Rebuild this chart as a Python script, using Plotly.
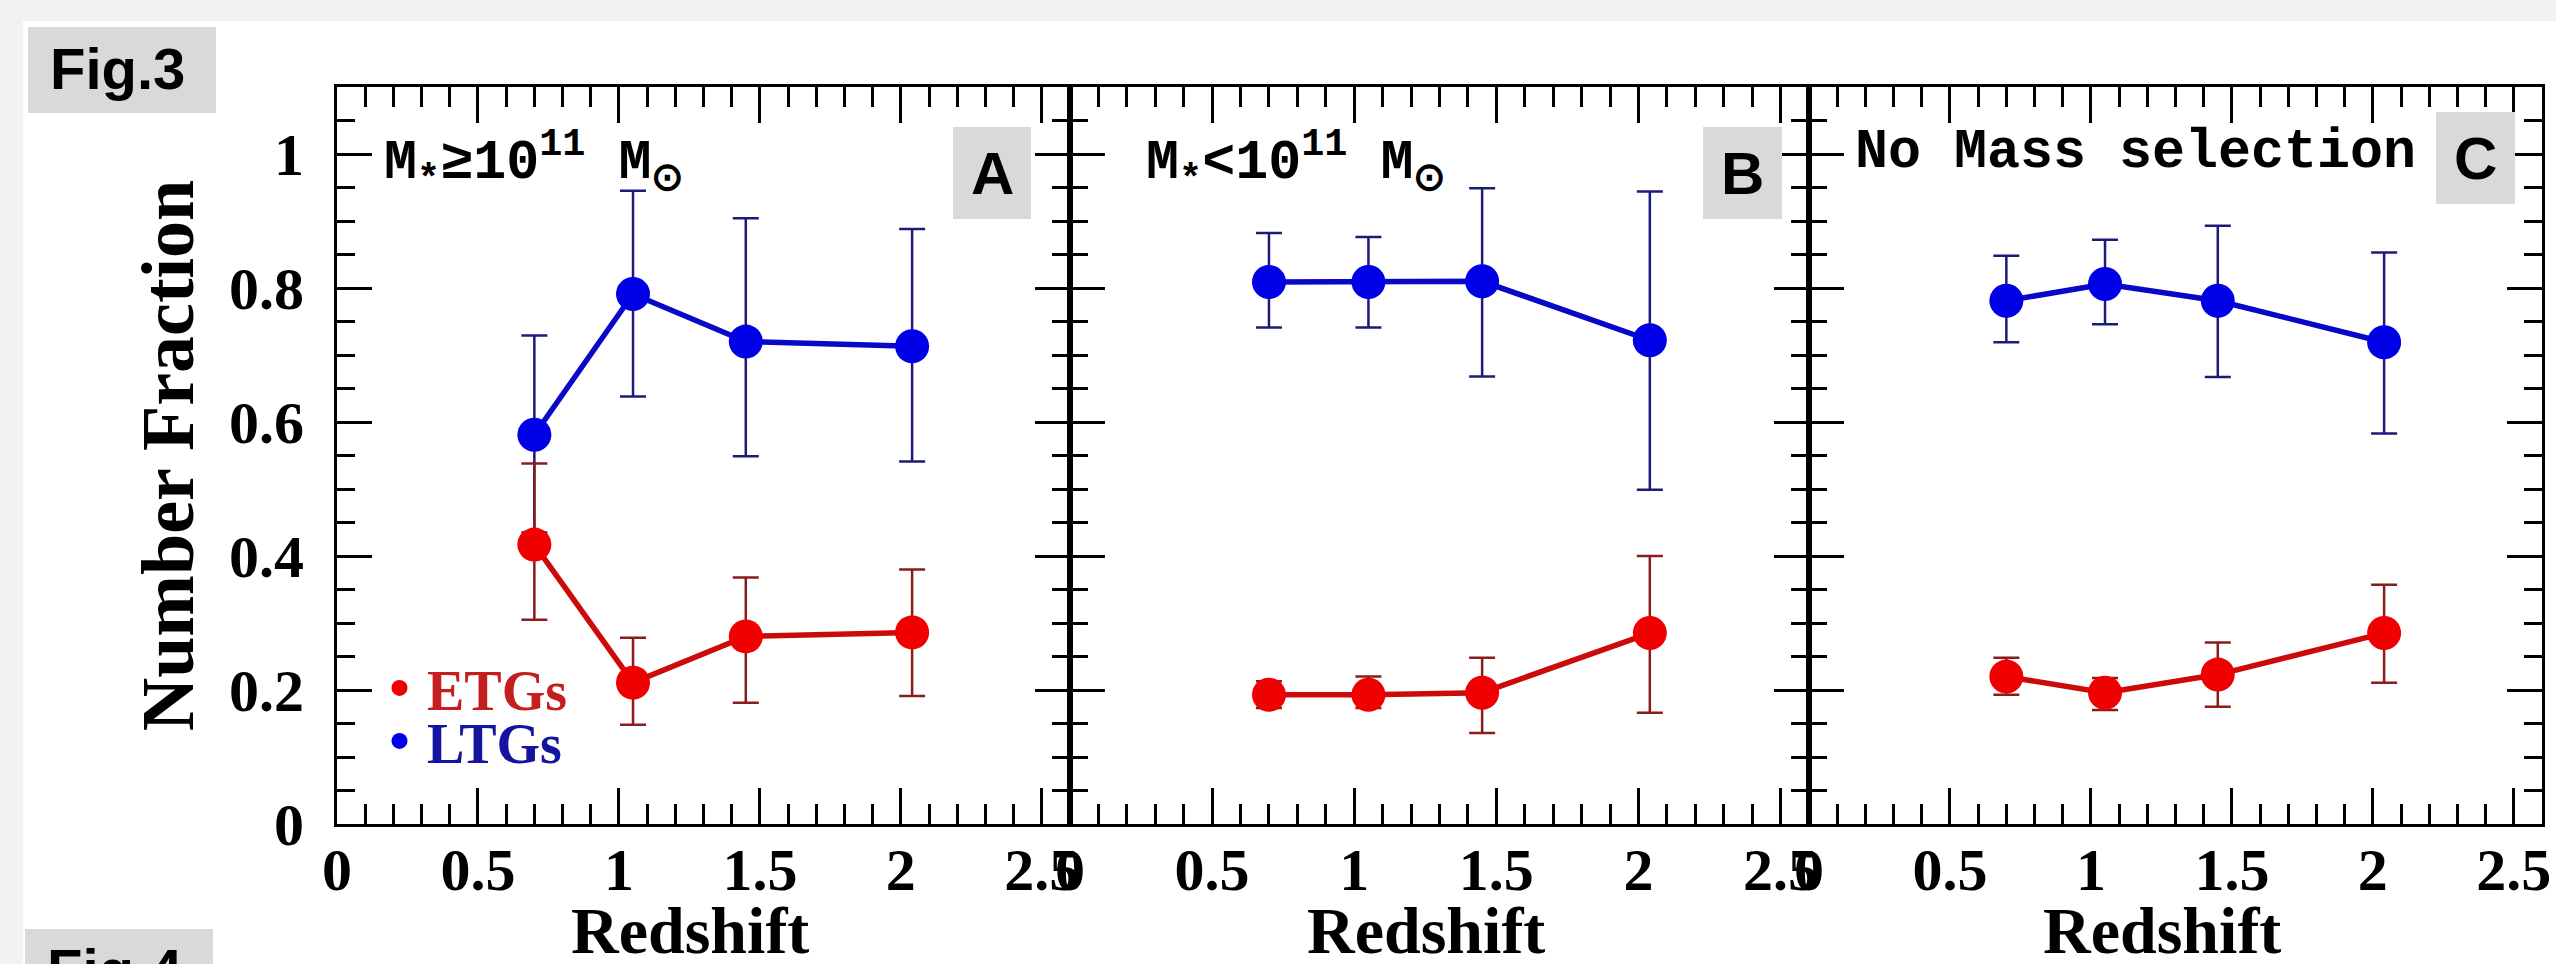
import plotly.graph_objects as go

# ---------------- data ----------------
redshift = [0.70, 1.05, 1.45, 2.04]

# Panel A : M* >= 1e11 Msun
a_ltg = [0.581, 0.791, 0.720, 0.713]
a_ltg_up = [0.148, 0.154, 0.184, 0.175]
a_ltg_dn = [0.146, 0.153, 0.171, 0.172]
a_etg = [0.417, 0.211, 0.280, 0.286]
a_etg_up = [0.121, 0.067, 0.088, 0.094]
a_etg_dn = [0.112, 0.063, 0.099, 0.095]

# Panel B : M* < 1e11 Msun
b_ltg = [0.809, 0.809, 0.810, 0.722]
b_ltg_up = [0.073, 0.067, 0.139, 0.222]
b_ltg_dn = [0.068, 0.068, 0.142, 0.223]
b_etg = [0.193, 0.193, 0.196, 0.285]
b_etg_up = [0.020, 0.027, 0.052, 0.115]
b_etg_dn = [0.020, 0.020, 0.060, 0.119]

# Panel C : no mass selection
c_ltg = [0.781, 0.806, 0.781, 0.719]
c_ltg_up = [0.067, 0.066, 0.112, 0.134]
c_ltg_dn = [0.062, 0.060, 0.114, 0.136]
c_etg = [0.220, 0.196, 0.223, 0.285]
c_etg_up = [0.028, 0.022, 0.048, 0.072]
c_etg_dn = [0.027, 0.026, 0.048, 0.074]

panel_titles = ["M<sub>*</sub>≥10<sup>11</sup> M<sub>⊙</sub>",
                "M<sub>*</sub>&lt;10<sup>11</sup> M<sub>⊙</sub>",
                "No Mass selection"]
panel_letters = ["A", "B", "C"]
x_title = "Redshift"
y_title = "Number Fraction"
series_names = ["ETGs", "LTGs"]

# ---------------- layout geometry ----------------
W, H = 2556, 964
L, R, T, B = 337, 2542, 87, 824
PW, PH = R - L, B - T


def px(X):
    return (X - L) / PW


def py(Y):
    return (B - Y) / PH


bounds = [337, 1070, 1809, 2542]
domains = [[px(bounds[i]), px(bounds[i + 1])] for i in range(3)]
domains[0][0] = 0.0
domains[2][1] = 1.0

BLUE = "#0000e6"
BLUE_LINE = "#0808c8"
BLUE_ERR = "#1c1c78"
RED = "#f00000"
RED_LINE = "#cc0a0a"
RED_ERR = "#8a1c1c"
BG_GREY = "#f2f2f2"
BOX_GREY = "#d9d9d9"

TICKFONT = dict(family="Liberation Serif", size=60, color="black", weight="bold")
TITLEFONT = dict(family="Liberation Serif", size=66, color="black", weight="bold")
MONOFONT = dict(family="Liberation Mono", size=55, color="black", weight="bold")
BOXFONT = dict(family="Liberation Sans", size=60, color="black", weight="bold")

fig = go.Figure()

panels = [
    (a_ltg, a_ltg_up, a_ltg_dn, a_etg, a_etg_up, a_etg_dn),
    (b_ltg, b_ltg_up, b_ltg_dn, b_etg, b_etg_up, b_etg_dn),
    (c_ltg, c_ltg_up, c_ltg_dn, c_etg, c_etg_up, c_etg_dn),
]

for i, (ltg, lup, ldn, etg, eup, edn) in enumerate(panels):
    xa = "x" if i == 0 else f"x{i+1}"
    ya = "y" if i == 0 else f"y{i+1}"
    fig.add_trace(go.Scatter(
        x=redshift, y=ltg, xaxis=xa, yaxis=ya, mode="lines+markers",
        line=dict(color=BLUE_LINE, width=5.5),
        marker=dict(color=BLUE, size=34),
        error_y=dict(type="data", symmetric=False, array=lup, arrayminus=ldn,
                     color=BLUE_ERR, thickness=2.5, width=13),
        showlegend=False, hoverinfo="skip"))
    fig.add_trace(go.Scatter(
        x=redshift, y=etg, xaxis=xa, yaxis=ya, mode="lines+markers",
        line=dict(color=RED_LINE, width=5.5),
        marker=dict(color=RED, size=34),
        error_y=dict(type="data", symmetric=False, array=eup, arrayminus=edn,
                     color=RED_ERR, thickness=2.5, width=13),
        showlegend=False, hoverinfo="skip"))

# legend entries (dots only)
fig.add_trace(go.Scatter(x=[None], y=[None], mode="markers", name=series_names[0],
                         marker=dict(color=RED, size=20), legend="legend"))
fig.add_trace(go.Scatter(x=[None], y=[None], mode="markers", name=series_names[1],
                         marker=dict(color=BLUE, size=20), legend="legend2"))

axis_common = dict(showline=True, linewidth=3, linecolor="black", mirror="allticks",
                   ticks="inside", tickcolor="black", tickwidth=3, automargin=False,
                   showgrid=False, zeroline=False, tickfont=TICKFONT)

layout = dict(
    width=W, height=H, autosize=False,
    margin=dict(l=L, r=W - R, t=T, b=H - B, autoexpand=False),
    paper_bgcolor="white", plot_bgcolor="rgba(0,0,0,0)",
    showlegend=True,
)

for i in range(3):
    xk = "xaxis" if i == 0 else f"xaxis{i+1}"
    yk = "yaxis" if i == 0 else f"yaxis{i+1}"
    layout[xk] = dict(axis_common, domain=domains[i], range=[0, 2.6],
                      tick0=0, dtick=0.5, ticklen=36, ticklabelstandoff=-9,
                      anchor="y" if i == 0 else f"y{i+1}",
                      minor=dict(dtick=0.1, ticks="inside", ticklen=20, tickwidth=2.5,
                                 tickcolor="black", showgrid=False))
    layout[yk] = dict(axis_common, domain=[0, 1], range=[0, 1.1],
                      tick0=0, dtick=0.2, ticklen=35, ticklabelstandoff=18,
                      anchor="x" if i == 0 else f"x{i+1}",
                      showticklabels=(i == 0),
                      minor=dict(dtick=0.05, ticks="inside", ticklen=18, tickwidth=2.5,
                                 tickcolor="black", showgrid=False))
layout["yaxis"]["title"] = dict(text=y_title, font=dict(TITLEFONT, size=74), standoff=12)

layout["legend"] = dict(x=px(372), y=py(688), xanchor="left", yanchor="middle",
                        bgcolor="rgba(0,0,0,0)", borderwidth=0, itemwidth=45,
                        font=dict(family="Liberation Serif", size=56, color="#c41e1e",
                                  weight="bold"))
layout["legend2"] = dict(x=px(372), y=py(741), xanchor="left", yanchor="middle",
                         bgcolor="rgba(0,0,0,0)", borderwidth=0, itemwidth=45,
                         font=dict(family="Liberation Serif", size=56, color="#1414a0",
                                   weight="bold"))

fig.update_layout(**layout)

shapes = []
# grey outer frame strips (top band and left band)
shapes.append(dict(type="rect", xref="paper", yref="paper", layer="below",
                   x0=px(0), x1=px(W), y0=py(21), y1=py(0),
                   fillcolor=BG_GREY, line=dict(width=0)))
shapes.append(dict(type="rect", xref="paper", yref="paper", layer="below",
                   x0=px(0), x1=px(23), y0=py(H), y1=py(0),
                   fillcolor=BG_GREY, line=dict(width=0)))
# grey label boxes
boxes = [(28, 27, 216, 113), (25, 929, 213, H),
         (953, 127, 1031, 219), (1703, 127, 1782, 219), (2436, 112, 2515, 204)]
for (x0, y0, x1, y1) in boxes:
    shapes.append(dict(type="rect", xref="paper", yref="paper", layer="above",
                       x0=px(x0), x1=px(x1), y0=py(y1), y1=py(y0),
                       fillcolor=BOX_GREY, line=dict(width=0)))
fig.update_layout(shapes=shapes)

ann = []
ann.append(dict(text="Fig.3", x=px(117), y=py(69), xref="paper", yref="paper",
                xanchor="center", yanchor="middle", showarrow=False,
                font=dict(BOXFONT, size=58)))
ann.append(dict(text="Fig.4", x=px(114), y=py(969), xref="paper", yref="paper",
                xanchor="center", yanchor="middle", showarrow=False,
                font=dict(BOXFONT, size=58)))
letter_pos = [(992, 173), (1742, 173), (2475, 158)]
for lt, (X, Y) in zip(panel_letters, letter_pos):
    ann.append(dict(text=lt, x=px(X), y=py(Y), xref="paper", yref="paper",
                    xanchor="center", yanchor="middle", showarrow=False, font=BOXFONT))
title_pos = [(382, 162), (1144, 162), (1853, 152)]
for t, (X, Y) in zip(panel_titles, title_pos):
    ann.append(dict(text=t, x=px(X), y=py(Y), xref="paper", yref="paper",
                    xanchor="left", yanchor="middle", showarrow=False, font=MONOFONT))
# x-axis titles under each panel
for i in range(3):
    xr = "x domain" if i == 0 else f"x{i+1} domain"
    ann.append(dict(text=x_title, x=0.5, xshift=-14, y=py(930), xref=xr, yref="paper",
                    xanchor="center", yanchor="middle", showarrow=False, font=TITLEFONT))
fig.update_layout(annotations=ann)

fig.write_html("out.html")
